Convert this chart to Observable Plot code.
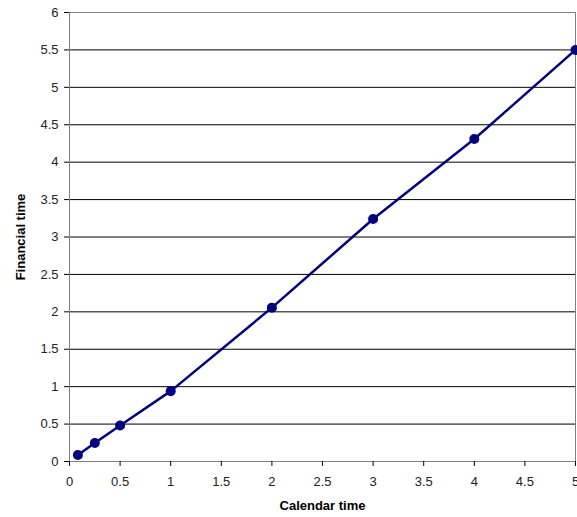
<!DOCTYPE html>
<html><head><meta charset="utf-8">
<script src="https://cdn.jsdelivr.net/npm/d3@7"></script>
<script src="https://cdn.jsdelivr.net/npm/@observablehq/plot@0.6"></script>
<style>
body{margin:0;background:#fff;}
svg{font-family:"Liberation Sans",Arial,sans-serif;}
</style></head><body>
<div id="chart"></div>
<script>
const calendarTime = [0.083, 0.25, 0.5, 1, 2, 3, 4, 5];
const financialTime = [0.087, 0.248, 0.48, 0.94, 2.056, 3.24, 4.31, 5.5];
const xTicks = [0, 0.5, 1, 1.5, 2, 2.5, 3, 3.5, 4, 4.5, 5];
const yTicks = [0, 0.5, 1, 1.5, 2, 2.5, 3, 3.5, 4, 4.5, 5, 5.5, 6];
const gridTicks = [0.5, 1, 1.5, 2, 2.5, 3, 3.5, 4, 4.5, 5, 5.5];

const data = calendarTime.map((x, i) => ({x, y: financialTime[i]}));
const fmt = d => String(d);

const chart = Plot.plot({
  width: 577, height: 517,
  marginLeft: 69, marginRight: 2, marginTop: 12, marginBottom: 56,
  x: {domain: [0, 5]},
  y: {domain: [0, 6]},
  style: {fontFamily: '"Liberation Sans", Arial, sans-serif', fontSize: "13px", color: "#000", background: "#fff"},
  marks: [
    Plot.ruleY(gridTicks, {stroke: "#000", strokeWidth: 1}),
    Plot.ruleY([6], {stroke: "#808080", strokeWidth: 1}),
    Plot.ruleX([5], {stroke: "#808080", strokeWidth: 1}),
    Plot.ruleX([0], {stroke: "#808080", strokeWidth: 1}),
    Plot.ruleY([0], {stroke: "#808080", strokeWidth: 1}),
    Plot.axisX({ticks: xTicks, tickSize: 5, tickPadding: 10, tickFormat: fmt, stroke: "#000", fill: "#222", fontSize: 13, label: null}),
    Plot.axisY({ticks: yTicks, tickSize: 5, tickPadding: 6, tickFormat: fmt, stroke: "#000", fill: "#222", fontSize: 13, label: null}),
    Plot.line(data, {x: "x", y: "y", stroke: "#000080", strokeWidth: 2.5}),
    Plot.dot(data, {x: "x", y: "y", fill: "#000080", r: 5}),
    Plot.text(["Calendar time"], {frameAnchor: "bottom", dy: 48, fontWeight: "bold", fontSize: 13, fill: "#000", text: d => d}),
    Plot.text(["Financial time"], {frameAnchor: "left", textAnchor: "middle", dx: -49, rotate: -90, fontWeight: "bold", fontSize: 13, fill: "#000", text: d => d})
  ]
});
document.getElementById("chart").appendChild(chart);
</script>
</body></html>
